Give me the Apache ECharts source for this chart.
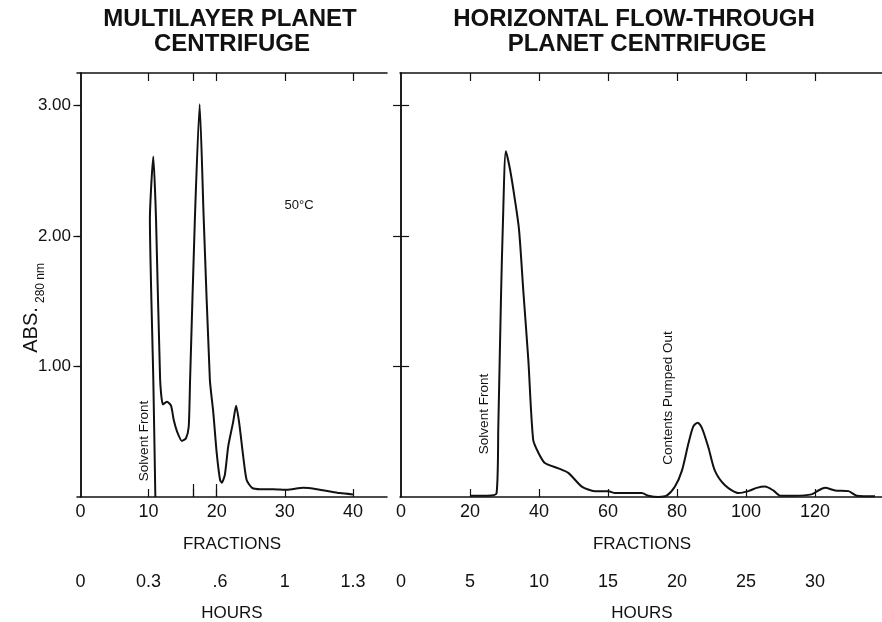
<!DOCTYPE html>
<html>
<head>
<meta charset="utf-8">
<script src="https://cdn.jsdelivr.net/npm/echarts@6/dist/echarts.min.js"></script>
<style>
  html, body { margin: 0; padding: 0; background: #fff; }
  #chart { width: 882px; height: 622px; }
</style>
</head>
<body>
<div id="chart"></div>
<script>
// multilayer planet centrifuge (left)
var fracLeft = [11.0, 10.7, 10.2, 10.7, 11.1, 11.7, 12.1, 12.7, 13.3, 13.7, 14.2, 14.9, 15.5, 15.9, 16.1, 16.8, 17.5, 18.1, 19.0, 19.5, 20.0, 20.5, 20.75, 21.2, 21.7, 22.4, 22.85, 23.3, 23.9, 24.4, 25.2, 26.4, 28.3, 30.3, 32.7, 34.7, 38.1, 40.0];
var absLeft  = [0.00, 0.90, 2.13, 2.61, 2.13, 0.90, 0.71, 0.73, 0.70, 0.59, 0.50, 0.43, 0.45, 0.54, 0.90, 2.13, 3.01, 2.13, 0.90, 0.65, 0.34, 0.13, 0.11, 0.17, 0.39, 0.57, 0.70, 0.57, 0.31, 0.13, 0.07, 0.06, 0.06, 0.055, 0.07, 0.06, 0.03, 0.02];

// horizontal flow-through planet centrifuge (right)
var fracRight = [20, 25, 27.7, 28.2, 29.0, 29.5, 30.4, 31.6, 33.0, 34.2, 35.5, 36.9, 38.3, 39.8, 41.7, 45.6, 48.5, 52.4, 56.2, 60.1, 62, 69.8, 71.7, 74.6, 77, 79.4, 81.4, 83.3, 84.7, 86.0, 87.2, 89.1, 91.0, 93.9, 97.8, 100.7, 103.1, 105.5, 107.9, 109.9, 114.2, 119, 121, 122.9, 125.8, 129.7, 132.1, 137.4];
var absRight  = [0.01, 0.01, 0.03, 0.54, 1.56, 2.07, 2.65, 2.51, 2.28, 2.05, 1.56, 1.05, 0.44, 0.34, 0.26, 0.22, 0.185, 0.08, 0.045, 0.045, 0.03, 0.03, 0.01, 0.00, 0.01, 0.08, 0.20, 0.41, 0.54, 0.57, 0.53, 0.38, 0.20, 0.09, 0.03, 0.045, 0.07, 0.08, 0.05, 0.01, 0.01, 0.02, 0.05, 0.07, 0.05, 0.045, 0.01, 0.005];

var yTicks = [1, 2, 3];
var fracTicksLeft = [10, 16.5, 20, 30, 40];
var longTicksLeft = [16.5, 20];
var fracLabelsLeft = [0, 10, 20, 30, 40];
var hourPosLeft = [0, 10, 20.5, 30, 40];
var hourLabelsLeft = ['0', '0.3', '.6', '1', '1.3'];
var fracTicksRight = [20, 40, 60, 80, 100, 120];
var fracLabelsRight = [0, 20, 40, 60, 80, 100, 120];
var hourLabelsRight = [0, 5, 10, 15, 20, 25, 30];

var ink = '#111';
var narrow = '"Liberation Sans Narrow", "Liberation Sans", Arial, sans-serif';
var sans = '"Liberation Sans", Arial, sans-serif';

function pairs(xs, ys) {
    return xs.map(function (x, i) { return [x, ys[i]]; });
}

function fracAxis(grid, min, max, ticks, labels) {
    return {
        type: 'value', gridIndex: grid, position: 'bottom', min: min, max: max,
        axisLine: { show: true, onZero: false, lineStyle: { color: ink, width: 1.5 } },
        axisTick: { show: true, inside: true, length: 8, customValues: ticks, lineStyle: { color: ink, width: 1.2 } },
        axisLabel: { customValues: labels, margin: 6, fontFamily: narrow, fontSize: 18, color: ink },
        splitLine: { show: false },
        name: 'FRACTIONS', nameLocation: 'middle', nameGap: 39,
        nameTextStyle: { fontFamily: sans, fontSize: 17, color: ink }
    };
}
function tickOnlyAxis(grid, pos, min, max, ticks, len) {
    return {
        type: 'value', gridIndex: grid, position: pos, min: min, max: max,
        axisLine: { show: pos === 'top', onZero: false, lineStyle: { color: ink, width: 1.5 } },
        axisTick: { show: true, inside: true, length: len, customValues: ticks, lineStyle: { color: ink, width: 1.2 } },
        axisLabel: { show: false }, splitLine: { show: false }
    };
}
function hourAxis(grid, min, max, pos, fmt) {
    return {
        type: 'value', gridIndex: grid, position: 'bottom', offset: 72, min: min, max: max,
        axisLine: { show: false }, axisTick: { show: false },
        axisLabel: { customValues: pos, formatter: fmt, margin: 4, fontFamily: narrow, fontSize: 18, color: ink },
        splitLine: { show: false },
        name: 'HOURS', nameLocation: 'middle', nameGap: 36,
        nameTextStyle: { fontFamily: sans, fontSize: 17, color: ink }
    };
}
function yAxis(grid, side, inside, len, showLabel) {
    return {
        type: 'value', gridIndex: grid, position: side, min: 0, max: 3.25,
        axisLine: { show: true, lineStyle: { color: ink, width: 1.5 } },
        axisTick: { show: true, inside: inside, length: len, customValues: yTicks, lineStyle: { color: ink, width: 1.2 } },
        axisLabel: { show: showLabel, customValues: yTicks, margin: 6, fontFamily: sans, fontSize: 17, color: ink,
            formatter: function (v) { return v.toFixed(2); } },
        splitLine: { show: false }
    };
}
function vtext(x, y, txt, font) {
    return { type: 'text', x: x, y: y, rotation: Math.PI / 2,
        style: { text: txt, fill: ink, font: font, textAlign: 'center', textVerticalAlign: 'middle' } };
}
function htext(x, y, txt, font) {
    return { type: 'text', x: x, y: y,
        style: { text: txt, fill: ink, font: font, textAlign: 'center', textVerticalAlign: 'middle' } };
}

var myChart = echarts.init(document.getElementById('chart'));

var option = {
    backgroundColor: '#fff',
    animation: false,
    grid: [
        { left: 77, top: 73, width: 310, height: 424, outerBoundsMode: 'none', containLabel: false },
        { left: 400, top: 73, width: 484, height: 424, outerBoundsMode: 'none', containLabel: false }
    ],
    xAxis: [
        fracAxis(0, -0.5, 45, fracTicksLeft, fracLabelsLeft),
        tickOnlyAxis(0, 'top', -0.5, 45, fracTicksLeft, 8),
        hourAxis(0, -0.5, 45, hourPosLeft, function (v) { return hourLabelsLeft[hourPosLeft.indexOf(v)]; }),
        tickOnlyAxis(0, 'bottom', -0.5, 45, longTicksLeft, 13),
        fracAxis(1, -0.3, 140, fracTicksRight, fracLabelsRight),
        tickOnlyAxis(1, 'top', -0.3, 140, fracTicksRight, 8),
        hourAxis(1, -0.3, 140, hourLabelsRight.map(function (h) { return h * 4; }), function (v) { return String(v / 4); })
    ],
    yAxis: [
        yAxis(0, 'left', false, 4, true),
        yAxis(0, 'right', true, 7, false),
        yAxis(1, 'left', true, 8, false),
        yAxis(1, 'right', true, 8, false)
    ],
    series: [
        { type: 'line', xAxisIndex: 0, yAxisIndex: 0, data: pairs(fracLeft, absLeft),
          symbol: 'none', smooth: 0.2, lineStyle: { color: ink, width: 2 } },
        { type: 'line', xAxisIndex: 4, yAxisIndex: 2, data: pairs(fracRight, absRight),
          symbol: 'none', smooth: 0.25, lineStyle: { color: ink, width: 2 } }
    ],
    graphic: [
        htext(230, 19, 'MULTILAYER PLANET', 'bold 24px ' + sans),
        htext(232, 44, 'CENTRIFUGE', 'bold 24px ' + sans),
        htext(634, 19, 'HORIZONTAL FLOW-THROUGH', 'bold 24px ' + sans),
        htext(637, 44, 'PLANET CENTRIFUGE', 'bold 24px ' + sans),
        htext(299, 205, '50°C', '13px ' + sans),
        vtext(31, 330, 'ABS.', '20px ' + narrow),
        vtext(41, 283, '280 nm', '12px ' + sans),
        vtext(144, 441, 'Solvent Front', '13.5px ' + sans),
        vtext(484, 414, 'Solvent Front', '13.5px ' + sans),
        vtext(668, 398, 'Contents Pumped Out', '13.5px ' + sans)
    ]
};

myChart.setOption(option);
</script>
</body>
</html>
